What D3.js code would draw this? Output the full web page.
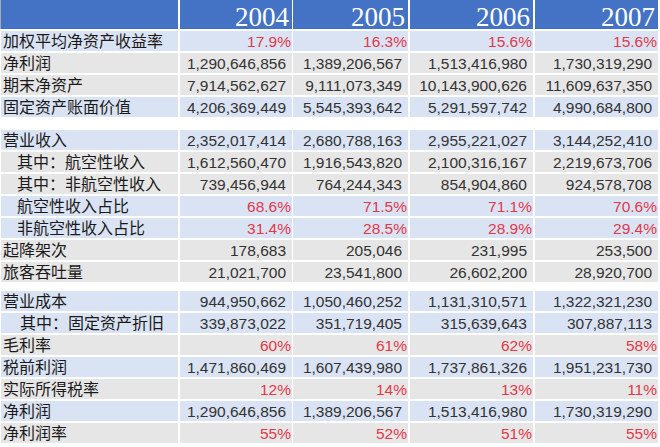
<!DOCTYPE html>
<html>
<head>
<meta charset="utf-8">
<script src="https://cdn.jsdelivr.net/npm/d3@7"></script>
<style>
body { margin: 0; background: #fff; }
</style>
</head>
<body>
<script>
// size of the page
var W = 660, H = 447;

// column headers
var years = ["2004", "2005", "2006", "2007"];

// row labels, grouped by block
var labels1 = ["加权平均净资产收益率", "净利润", "期末净资产", "固定资产账面价值"];
var labels2 = ["营业收入", "其中：航空性收入", "其中：非航空性收入", "航空性收入占比", "非航空性收入占比", "起降架次", "旅客吞吐量"];
var labels3 = ["营业成本", "其中：固定资产折旧", "毛利率", "税前利润", "实际所得税率", "净利润", "净利润率"];

// values by row (one per year)
var roe = ["17.9%", "16.3%", "15.6%", "15.6%"];
var netProfit = [1290646856, 1389206567, 1513416980, 1730319290];
var netAssets = [7914562627, 9111073349, 10143900626, 11609637350];
var fixedAssets = [4206369449, 5545393642, 5291597742, 4990684800];

var revenue = [2352017414, 2680788163, 2955221027, 3144252410];
var aeroRevenue = [1612560470, 1916543820, 2100316167, 2219673706];
var nonAeroRevenue = [739456944, 764244343, 854904860, 924578708];
var aeroShare = ["68.6%", "71.5%", "71.1%", "70.6%"];
var nonAeroShare = ["31.4%", "28.5%", "28.9%", "29.4%"];
var movements = [178683, 205046, 231995, 253500];
var passengers = [21021700, 23541800, 26602200, 28920700];

var opCost = [944950662, 1050460252, 1131310571, 1322321230];
var depreciation = [339873022, 351719405, 315639643, 307887113];
var grossMargin = ["60%", "61%", "62%", "58%"];
var preTaxProfit = [1471860469, 1607439980, 1737861326, 1951231730];
var taxRate = ["12%", "14%", "13%", "11%"];
var netMargin = ["55%", "52%", "51%", "55%"];

// row shading: b = light blue, g = light gray
var shade1 = ["b", "g", "g", "b"];
var shade2 = ["b", "g", "g", "b", "b", "g", "g"];
var shade3 = ["b", "b", "g", "b", "g", "b", "g"];

var indent = {"其中：航空性收入": 17, "其中：非航空性收入": 17, "航空性收入占比": 17,
	"非航空性收入占比": 17, "其中：固定资产折旧": 20};

var blocks = [
	{top: 31, labels: labels1, shade: shade1, vals: [roe, netProfit, netAssets, fixedAssets]},
	{top: 130, labels: labels2, shade: shade2, vals: [revenue, aeroRevenue, nonAeroRevenue, aeroShare, nonAeroShare, movements, passengers]},
	{top: 291, labels: labels3, shade: shade3, vals: [opCost, depreciation, grossMargin, preTaxProfit, taxRate, netProfit, netMargin]}
];

var rows = [];
blocks.forEach(function(b) {
	b.labels.forEach(function(l, i) {
		rows.push({label: l, y: b.top + i * 22, shade: b.shade[i], vals: b.vals[i]});
	});
});

// column edges
var colX = d3.scaleOrdinal().domain(years).range([180, 293, 410, 535]);
var colW = d3.scaleOrdinal().domain(years).range([112, 115, 123, 123]);
var fmt = d3.format(",");
var fill = {b: "#dae3f3", g: "#e7e6e6"};
var rowH = 20;

var svg = d3.select("body")
	.append("svg")
	.attr("width", W)
	.attr("height", H);

svg.append("rect")
	.attr("width", W)
	.attr("height", H)
	.style("fill", "white");

// header
var header = svg.append("g");
header.append("rect")
	.attr("x", 1).attr("y", 0)
	.attr("width", 177).attr("height", 29)
	.style("fill", "#4472c4");
header.append("line")
	.attr("x1", 0.5).attr("x2", 0.5).attr("y1", 0).attr("y2", 29)
	.style("stroke", "#aaa");

var hcells = header.selectAll("g.year")
	.data(years)
	.enter().append("g")
	.attr("class", "year")
	.attr("transform", function(d) { return "translate(" + colX(d) + ",0)"; });

hcells.append("rect")
	.attr("width", function(d) { return colW(d); })
	.attr("height", 29)
	.style("fill", "#4472c4");

hcells.append("text")
	.text(function(d) { return d; })
	.attr("x", function(d) { return colW(d) - 3; })
	.attr("y", 26)
	.attr("text-anchor", "end")
	.style("font-family", "'Liberation Serif', 'Times New Roman', serif")
	.style("font-size", "27px")
	.style("fill", "white");

// body rows
var rowG = svg.selectAll("g.row")
	.data(rows)
	.enter().append("g")
	.attr("class", "row")
	.attr("transform", function(d) { return "translate(0," + d.y + ")"; });

rowG.append("rect")
	.attr("x", 1)
	.attr("width", 177)
	.attr("height", rowH)
	.style("fill", function(d) { return fill[d.shade]; });

rowG.append("text")
	.text(function(d) { return d.label; })
	.attr("x", function(d) { return indent[d.label] || 3; })
	.attr("y", 16)
	.style("font-family", "'Noto Sans CJK SC', sans-serif")
	.style("font-size", "16px")
	.style("fill", "#1a1a1a");

var cells = rowG.selectAll("g.cell")
	.data(function(d) {
		return years.map(function(y, i) { return {year: y, v: d.vals[i], shade: d.shade}; });
	})
	.enter().append("g")
	.attr("class", "cell")
	.attr("transform", function(d) { return "translate(" + colX(d.year) + ",0)"; });

cells.append("rect")
	.attr("width", function(d) { return colW(d.year); })
	.attr("height", rowH)
	.style("fill", function(d) { return fill[d.shade]; });

cells.append("text")
	.text(function(d) { return typeof d.v === "string" ? d.v : fmt(d.v); })
	.attr("x", function(d) { return colW(d.year) - (typeof d.v === "string" ? 1 : 6); })
	.attr("y", 16)
	.attr("text-anchor", "end")
	.style("font-family", "'Liberation Sans', Arial, sans-serif")
	.style("font-size", "15.5px")
	.style("fill", function(d) { return typeof d.v === "string" ? "#e0394b" : "#333"; });
</script>
</body>
</html>
